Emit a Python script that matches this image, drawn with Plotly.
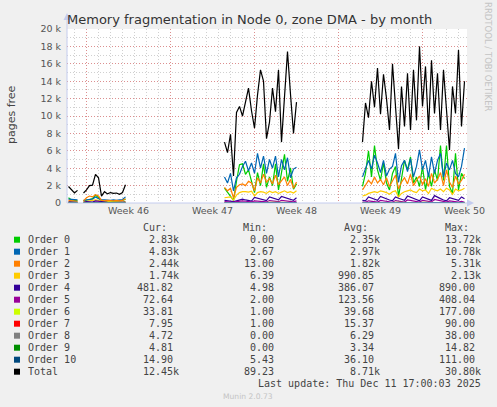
import pandas as pd
import plotly.graph_objects as go

# time axis: one point every 6 hours, data comes in four runs with gaps between
SEG_START = ["2025-11-08 12:00", "2025-11-09 18:00", "2025-11-21 12:00", "2025-12-03 00:00"]
STEP = "6h"
X_RANGE = ["2025-11-08 09:00", "2025-12-11 17:00"]

WEEK_TICKS = ["2025-11-10", "2025-11-17", "2025-11-24", "2025-12-01", "2025-12-08"]
WEEK_LABELS = ["Week 46", "Week 47", "Week 48", "Week 49", "Week 50"]
Y_TICKS = [0, 2000, 4000, 6000, 8000, 10000, 12000, 14000, 16000, 18000, 20000]
Y_LABELS = ["0", "2 k", "4 k", "6 k", "8 k", "10 k", "12 k", "14 k", "16 k", "18 k", "20 k"]

# pages free per order, one list per run of data
order0 = [[600, 350, 300, 250],
          [250, 300, 400, 500, 900, 600, 250, 200, 250, 200, 250, 200, 250, 300, 450],
          [1700, 1200, 800, 300, 2500, 4400, 4500, 3300, 3800, 2500, 1200, 3500, 2000, 4500, 1800,
           3000, 2000, 4500, 1500, 3500, 5600, 2500, 4000, 1600, 2200],
          [1900, 3400, 6000, 3000, 6600, 3800, 2600, 4600, 2300, 1500, 3400, 4200, 700, 3000, 4900,
           3800, 5300, 2300, 3000, 1900, 4200, 1500, 3400, 1900, 3800, 2600, 6600, 2600, 6600, 1900,
           1100, 5700, 1500, 3400, 2800]]
order1 = [[450, 400, 350, 350],
          [300, 350, 450, 450, 700, 500, 400, 350, 350, 300, 350, 300, 350, 400, 700],
          [3000, 2300, 3400, 1400, 2900, 3300, 4200, 4800, 3700, 4600, 3400, 5700, 4000, 5400, 3400,
           5000, 4000, 5400, 3000, 5000, 3800, 5200, 2900, 3900, 4100],
          [3000, 4000, 4900, 3900, 5500, 4600, 3500, 4900, 3100, 3900, 4200, 5700, 2400, 4300, 4900,
           3600, 5100, 3000, 4200, 6100, 3800, 4900, 3000, 5300, 3400, 4900, 5700, 3000, 4600, 3800,
           4900, 3400, 3000, 4200, 6300]]
order2 = [[300, 250, 250, 200],
          [250, 600, 800, 700, 950, 800, 300, 250, 300, 250, 250, 300, 250, 300, 500],
          [1800, 1400, 1700, 600, 1800, 2100, 2200, 2000, 2500, 2300, 1400, 2900, 2300, 3300, 2400,
           2800, 2200, 3200, 2100, 2600, 3000, 2000, 2700, 1700, 2400],
          [1500, 2000, 2600, 2200, 3000, 2300, 2700, 2100, 2900, 1900, 2500, 3200, 1600, 2400, 2900,
           2200, 3300, 2000, 2600, 3100, 2100, 2800, 1900, 3400, 2300, 2700, 3500, 2000, 3800, 2400,
           1800, 3100, 2200, 2600, 3300]]
order3 = [[150, 120, 100, 100],
          [120, 200, 300, 300, 350, 300, 150, 120, 100, 120, 100, 120, 100, 120, 200],
          [600, 650, 700, 350, 900, 1200, 1300, 1300, 1250, 1350, 800, 1200, 1300, 1250, 1100,
           1350, 1200, 1300, 1100, 1250, 1400, 1200, 1300, 1150, 1400],
          [800, 900, 1100, 1200, 1300, 1200, 1400, 1300, 1200, 1000, 1300, 1400, 700, 1100, 1300,
           1400, 1500, 1300, 1200, 1600, 1400, 1500, 1100, 1700, 1500, 1400, 1600, 1300, 1700, 1500,
           1000, 1600, 1400, 1500, 1700]]
order4 = [[120, 100, 90, 80],
          [70, 150, 130, 110, 250, 200, 90, 80, 70, 60, 70, 60, 50, 60, 100],
          [300, 250, 200, 150, 250, 350, 450, 350, 280, 220, 650, 550, 450, 350, 280,
           700, 580, 460, 360, 750, 620, 500, 400, 320, 600],
          [300, 250, 700, 550, 400, 300, 750, 600, 450, 350, 250, 700, 550, 400, 300,
           800, 650, 500, 350, 250, 700, 550, 450, 300, 850, 650, 500, 350, 250, 600,
           500, 400, 300, 700, 480]]
order5 = [[60, 50, 45, 40],
          [35, 80, 70, 60, 120, 100, 50, 40, 35, 30, 35, 30, 30, 35, 60],
          [150, 120, 100, 80, 150, 200, 250, 200, 150, 120, 250, 220, 180, 150, 120,
           280, 230, 190, 150, 300, 260, 210, 170, 130, 250],
          [100, 80, 250, 200, 150, 100, 300, 250, 180, 120, 90, 280, 220, 160, 110,
           350, 280, 200, 140, 100, 300, 240, 180, 120, 400, 320, 240, 160, 110, 250,
           200, 150, 100, 200, 70]]
order6 = [[20, 18, 15, 14],
          [12, 25, 22, 20, 40, 30, 15, 12, 10, 10, 12, 10, 10, 12, 20],
          [30, 25, 20, 15, 35, 45, 50, 40, 35, 30, 60, 55, 45, 40, 35, 65, 55, 45, 40, 70,
           60, 50, 40, 35, 55],
          [25, 20, 60, 50, 40, 30, 70, 55, 45, 35, 25, 65, 55, 45, 35, 80, 65, 50, 40, 30,
           70, 55, 45, 35, 90, 70, 55, 40, 30, 60, 50, 40, 30, 55, 34]]
order7 = [[10, 8, 8, 7],
          [6, 12, 10, 9, 18, 14, 7, 6, 5, 5, 6, 5, 5, 6, 9],
          [12, 10, 8, 6, 14, 18, 20, 16, 14, 12, 25, 22, 18, 16, 14, 28, 22, 18, 16, 30,
           25, 20, 16, 14, 22],
          [8, 6, 20, 16, 12, 9, 24, 18, 14, 10, 8, 22, 18, 14, 10, 28, 22, 16, 12, 9,
           24, 18, 14, 10, 32, 24, 18, 12, 9, 20, 16, 12, 9, 18, 8]]
order8 = [[5, 4, 4, 3],
          [3, 6, 5, 5, 9, 7, 4, 3, 3, 3, 3, 3, 2, 3, 5],
          [6, 5, 4, 3, 7, 9, 10, 8, 7, 6, 12, 11, 9, 8, 7, 13, 11, 9, 8, 14, 12, 10, 8, 7, 10],
          [4, 3, 9, 7, 6, 5, 11, 9, 7, 5, 4, 10, 8, 7, 5, 13, 10, 8, 6, 4,
           11, 9, 7, 5, 14, 11, 8, 6, 4, 9, 7, 6, 4, 8, 5]]
order9 = [[3, 2, 2, 2],
          [2, 3, 3, 2, 5, 4, 2, 2, 2, 1, 2, 1, 1, 2, 3],
          [3, 2, 2, 1, 3, 4, 5, 4, 3, 3, 6, 5, 4, 4, 3, 6, 5, 4, 4, 7, 6, 5, 4, 3, 5],
          [2, 1, 4, 3, 3, 2, 5, 4, 3, 2, 2, 5, 4, 3, 2, 6, 5, 4, 3, 2,
           5, 4, 3, 2, 7, 5, 4, 3, 2, 4, 3, 3, 2, 4, 5]]
order10 = [[20, 20, 18, 18],
           [16, 20, 20, 18, 25, 22, 16, 15, 15, 14, 14, 14, 13, 13, 15],
           [30, 28, 25, 22, 32, 38, 42, 36, 32, 30, 48, 44, 40, 36, 34, 50, 46, 40, 36, 55,
            48, 42, 38, 34, 45],
           [25, 22, 45, 40, 35, 30, 50, 44, 38, 32, 28, 48, 42, 36, 30, 55, 48, 40, 34, 28,
            50, 44, 38, 32, 60, 52, 44, 36, 30, 45, 40, 34, 28, 40, 15]]
total = [[1900, 1500, 1150, 1450],
         [1150, 1500, 2000, 2050, 3300, 2900, 800, 1300, 1050, 1200, 1100, 1150, 1000, 1200, 2100],
         [7000, 5800, 7900, 3100, 10400, 11100, 10000, 11800, 13200, 10600, 8600, 12400, 15300,
          14000, 7400, 9300, 13200, 10500, 15300, 7000, 12800, 17400, 12500, 8000, 11600],
         [7000, 11500, 9800, 14000, 11000, 15500, 10200, 14800, 12000, 8400, 16000, 11000, 6200,
          13400, 8800, 14900, 8400, 15300, 9500, 18000, 11100, 15700, 8400, 16400, 10300, 14900,
          8400, 15300, 10300, 6100, 13400, 10300, 17600, 8800, 14000]]

NAMES = ["Order 0", "Order 1", "Order 2", "Order 3", "Order 4", "Order 5", "Order 6",
         "Order 7", "Order 8", "Order 9", "Order 10", "Total"]
COLORS = ["#00cc00", "#0066b3", "#ff8000", "#ffcc00", "#330099", "#990099", "#ccff00",
          "#ff0000", "#808080", "#008f00", "#00487d", "#000000"]
DATA = [order0, order1, order2, order3, order4, order5, order6, order7, order8, order9,
        order10, total]

CUR = ["2.83k", "4.83k", "2.44k", "1.74k", "481.82", "72.64", "33.81", "7.95", "4.72", "4.81",
       "14.90", "12.45k"]
MIN = ["0.00", "2.67", "13.00", "6.39", "4.98", "2.00", "1.00", "1.00", "0.00", "0.00",
       "5.43", "89.23"]
AVG = ["2.35k", "2.97k", "1.82k", "990.85", "386.07", "123.56", "39.68", "15.37", "6.29",
       "3.34", "36.10", "8.71k"]
MAX = ["13.72k", "10.78k", "5.31k", "2.13k", "890.00", "408.04", "177.00", "90.00", "38.00",
       "14.82", "111.00", "30.80k"]

# plot area in pixels (left, top, width, height)
L, T, W, H = 67, 29, 400, 174
RED = "rgba(230,90,90,0.55)"
GRAY = "rgba(150,150,150,0.45)"
AXIS = "#c4ccee"
TXT = "#444444"


def px(x):
    return (x - L) / W


def py(y):
    return (T + H - y) / H


def build(segs):
    xs, ys = [], []
    for start, vals in zip(SEG_START, segs):
        t = pd.date_range(start, periods=len(vals), freq=STEP)
        if xs:
            xs.append(t[0].strftime("%Y-%m-%d %H:%M"))
            ys.append(None)
        xs += [s.strftime("%Y-%m-%d %H:%M") for s in t]
        ys += vals
    return xs, ys


fig = go.Figure()
for name, color, segs in zip(NAMES, COLORS, DATA):
    xs, ys = build(segs)
    fig.add_trace(go.Scatter(x=xs, y=ys, mode="lines", name=name,
                             line=dict(color=color, width=1.2), connectgaps=False,
                             showlegend=False, hoverinfo="skip"))

shapes = [
    # y axis line with arrow
    dict(type="line", xref="paper", yref="paper", x0=0, x1=0, y0=0, y1=py(20),
         line=dict(color=AXIS, width=1)),
    dict(type="path", xref="paper", yref="paper", fillcolor=AXIS, line=dict(width=0),
         path=f"M {px(63.5)} {py(20)} L {px(70.5)} {py(20)} L {px(67)} {py(13)} Z"),
    # x axis line with arrow
    dict(type="line", xref="paper", yref="paper", x0=0, x1=px(468), y0=0, y1=0,
         line=dict(color=AXIS, width=1)),
    dict(type="path", xref="paper", yref="paper", fillcolor=AXIS, line=dict(width=0),
         path=f"M {px(467)} {py(199.5)} L {px(467)} {py(206.5)} L {px(474)} {py(203)} Z"),
]

annotations = [
    dict(text="Memory fragmentation in Node 0, zone DMA - by month", x=px(249), y=py(19.5),
         font=dict(size=13, color="#333333", family="DejaVu Sans")),
    dict(text="pages free", x=px(11), y=py(114), textangle=-90,
         font=dict(size=11, color=TXT, family="DejaVu Sans")),
    dict(text="RRDTOOL / TOBI OETIKER", x=px(488), y=py(57), textangle=90,
         font=dict(size=8.5, color="#c4c4c4", family="DejaVu Sans")),
    dict(text="Munin 2.0.73", x=px(248), y=py(396),
         font=dict(size=7.6, color="#c4c4c4", family="DejaVu Sans")),
    dict(text="Last update: Thu Dec 11 17:00:03 2025", x=px(483), y=py(383.5), xanchor="right",
         font=dict(size=10, color=TXT, family="DejaVu Sans Mono")),
]

mono = dict(size=10, color=TXT, family="DejaVu Sans Mono")
for head, right in zip(["Cur:", "Min:", "Avg:", "Max:"], [168.5, 269, 369.5, 470.5]):
    annotations.append(dict(text=head, x=px(right), y=py(227.5), xanchor="right", font=mono))

for i, name in enumerate(NAMES):
    yc = 239.7 + 12 * i
    shapes.append(dict(type="rect", xref="paper", yref="paper", x0=px(14), x1=px(20),
                       y0=py(yc - 3), y1=py(yc + 3), fillcolor=COLORS[i], line=dict(width=0)))
    annotations.append(dict(text=name, x=px(26), y=py(yc), xanchor="left", font=mono))
    for col, right in zip([CUR, MIN, AVG, MAX], [181, 281.6, 382, 482.7]):
        val = col[i] if col[i].endswith("k") else col[i] + "\u00a0"
        annotations.append(dict(text=val, x=px(right), y=py(yc), xanchor="right", font=mono))

for a in annotations:
    a.update(xref="paper", yref="paper", showarrow=False)
    a.setdefault("xanchor", "center")
    a.setdefault("yanchor", "middle")

fig.update_layout(
    width=497, height=407,
    margin=dict(l=L, r=497 - L - W, t=T, b=407 - T - H, pad=0),
    paper_bgcolor="#f0f0f0", plot_bgcolor="#ffffff",
    font=dict(family="DejaVu Sans", size=9.5, color="#555555"),
    shapes=shapes, annotations=annotations,
    xaxis=dict(type="date", range=X_RANGE, tickmode="array", tickvals=WEEK_TICKS,
               ticktext=WEEK_LABELS, ticklabelshift=42, ticks="", showline=False,
               zeroline=False, showgrid=True, gridcolor=RED, gridwidth=1, griddash="1px,2px",
               minor=dict(tick0="2025-11-09", dtick=86400000, showgrid=True, gridcolor=GRAY,
                          griddash="1px,2px", gridwidth=1),
               tickfont=dict(size=9.5, color="#555555")),
    yaxis=dict(range=[0, 20000], tickmode="array", tickvals=Y_TICKS, ticktext=Y_LABELS,
               ticks="", ticklabelstandoff=5, showline=False, zeroline=False,
               showgrid=True, gridcolor=RED, gridwidth=1, griddash="1px,2px",
               minor=dict(tick0=0, dtick=1000, showgrid=True, gridcolor=GRAY,
                          griddash="1px,2px", gridwidth=1),
               tickfont=dict(size=9.5, color="#555555")),
)

fig.write_html("out.html", config={"displayModeBar": False},
               post_script="document.body.style.margin='0';")
